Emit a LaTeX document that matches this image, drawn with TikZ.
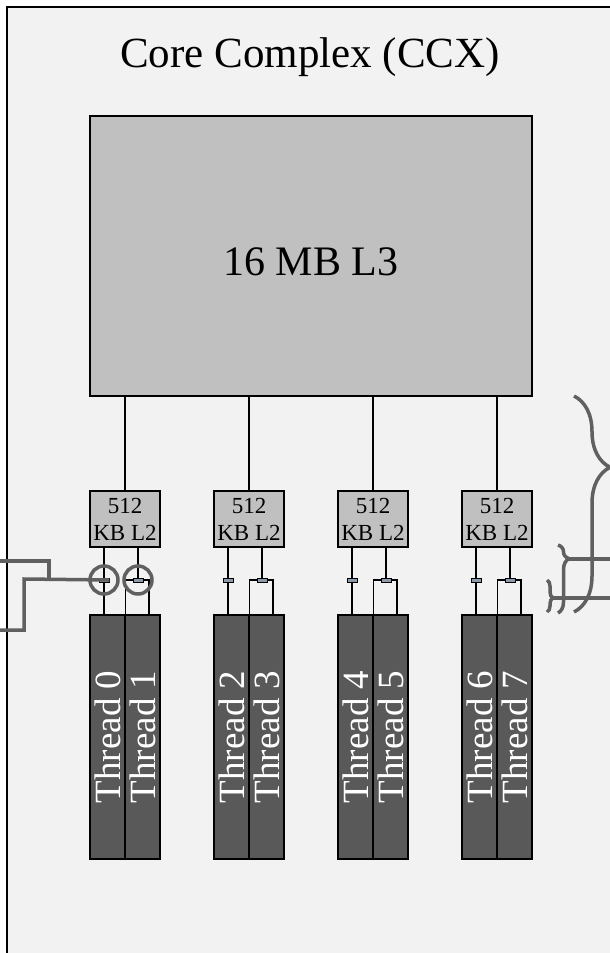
\documentclass[tikz,border=0pt]{standalone}
\usepackage{fontspec}
\setmainfont{Liberation Serif}
\usepackage{xcolor}
\usepackage{tikz}
\usetikzlibrary{decorations.pathreplacing}
\definecolor{bgc}{HTML}{F2F2F2}
\definecolor{boxc}{HTML}{C0C0C0}
\definecolor{thc}{HTML}{595959}
\definecolor{lnc}{HTML}{606060}
\definecolor{swc}{HTML}{8C9BAB}
\tikzset{
  frm/.style={draw=black,line width=2.2pt,fill=bgc},
  cbox/.style={draw=black,line width=1.6pt,fill=boxc,inner sep=0pt},
  thr/.style={draw=black,line width=1.6pt,fill=thc,text=white,inner sep=0pt,minimum width=35pt,minimum height=244pt,font=\fontsize{37}{40}\selectfont},
  sw/.style={draw=black,line width=0.8pt,fill=swc,inner sep=0pt,minimum width=10pt,minimum height=4pt},
  wr/.style={line width=1.4pt},
  gry/.style={draw=lnc,line width=3.5pt},
  brc/.style args={#1/#2}{gry,decorate,decoration={brace,amplitude=#1,aspect=#2}}
}
% one core: x, first thread, second thread
\newcommand{\ccxcore}[3]{%
  \node[cbox,minimum width=70pt,minimum height=56pt,align=center,font=\fontsize{23}{27}\selectfont] (l2#2) at (#1,519) {512\\KB L2};
  \node[thr] (t#2) at (#1-17.5,737) {\rotatebox{90}{Thread #2}};
  \node[thr] (t#3) at (#1+17.5,737) {\rotatebox{90}{Thread #3}};
  \node[sw] (sa#2) at (#1-21,580) {}; \node[sw] (sb#2) at (#1+13,580) {};
  \draw[wr] (l2#2.north) -- (l2#2.north |- l3.south);
  \draw[wr] (sa#2.north) -- (sa#2.north |- l2#2.south); \draw[wr] (sa#2.south) -- (sa#2.south |- t#2.north);
  \draw[wr] (sb#2.north) -- (sb#2.north |- l2#2.south);
  \draw[wr] (sb#2.west) -| ([xshift=1pt]t#3.north west); \draw[wr] (sb#2.east) -| ([xshift=-12pt]t#3.north east);
}

\begin{document}
\begin{tikzpicture}[x=1pt,y=-1pt]
\path[use as bounding box,clip] (0,0) rectangle (610,953);
\draw[frm] (7,7) rectangle (640,990);
\node[font=\fontsize{43}{50}\selectfont,anchor=base] (ttl) at (310,67) {Core Complex (CCX)};
\node[cbox,minimum width=442pt,minimum height=280pt] (l3) at (311,256) {};
\node[font=\fontsize{42}{50}\selectfont] (l3t) at (311,262) {16 MB L3};
\ccxcore{125}{0}{1}
\ccxcore{249}{2}{3}
\ccxcore{373}{4}{5}
\ccxcore{497}{6}{7}
% links leaving the complex
\draw[gry] (0,561) -| (49,579);
\draw[gry] (0,630) -| (24,579) -- (sa0.east);
\draw[gry] (sa0) circle[radius=14pt]; \draw[gry] (sb0) circle[radius=14pt];
\draw[brc=36/0.33] (574,396) -- (574,612);
\draw[brc=11/0.2] (558,545) -- (558,613);
\draw[brc=6/0.56] (547,580) -- (547,612);
\draw[gry] (567,559) -- (615,559); \draw[gry] (553,598) -- (615,598);
\end{tikzpicture}
\end{document}
